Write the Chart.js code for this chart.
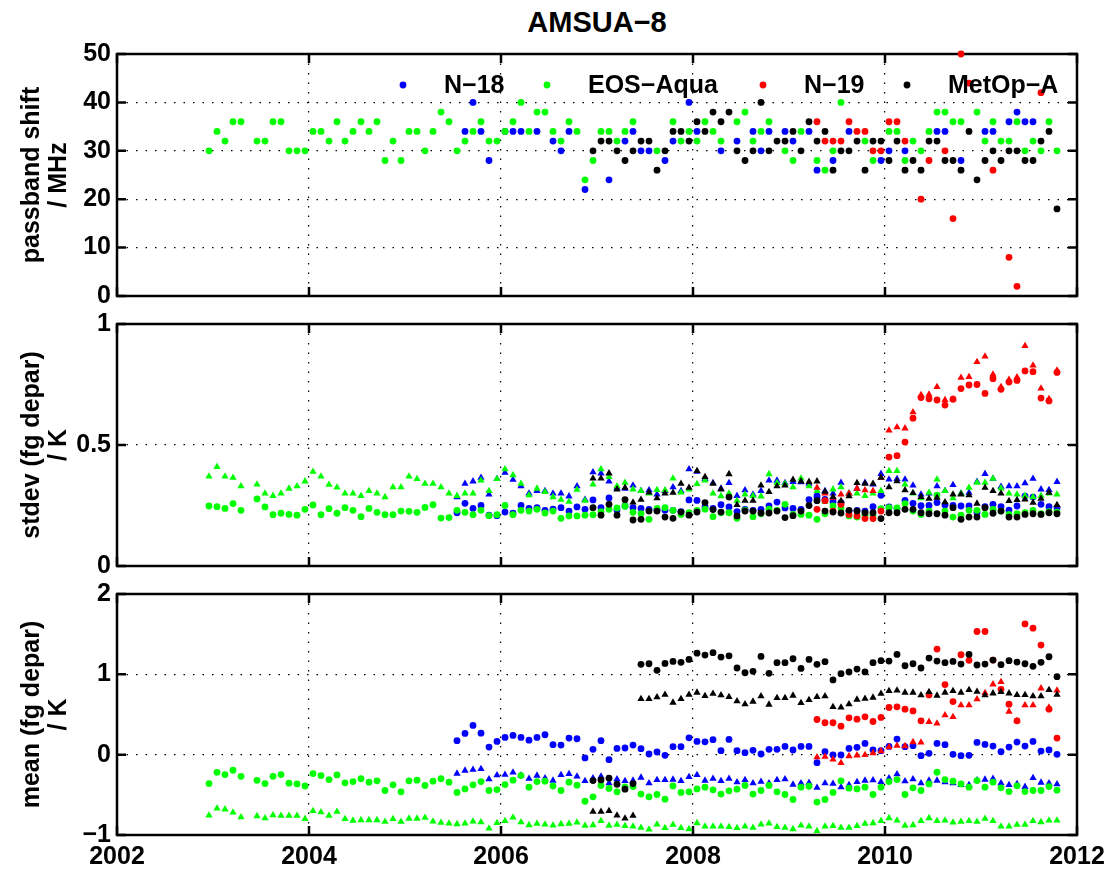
<!DOCTYPE html>
<html>
<head>
<meta charset="utf-8">
<script src="https://cdn.jsdelivr.net/npm/chart.js@4.4.1/dist/chart.umd.min.js"></script>
<style>
  body { margin: 0; background: #fff; overflow: hidden; width: 1112px; height: 873px; position: relative; }
  canvas { position: absolute; left: 0; }
  #title { position: absolute; left: 397px; width: 400px; top: 8px; text-align: center;
           font: bold 29px "Liberation Sans", Arial, sans-serif; line-height: 29px; color: #000; }
</style>
</head>
<body>
<div id="title">AMSUA−8</div>
<canvas id="shiftChart" width="1112" height="284" style="top:33px"></canvas>
<canvas id="stdevChart" width="1112" height="284" style="top:303px"></canvas>
<canvas id="meanChart" width="1112" height="307" style="top:573px"></canvas>
<script>
// monthly values, index 0 = Dec 2002
const satellites = ['N−18', 'EOS−Aqua', 'N−19', 'MetOp−A'];
const satColors = ['#0000ff', '#00ff00', '#ff0000', '#000000'];
const aquaStart = 0, n18Start = 31, metopStart = 48, n19Start = 76;
const xTicks = [2002, 2004, 2006, 2008, 2010, 2012];

// passband shift / MHz
const aquaShift = [30,34,32,36,36,null,32,32,36,36, 30,30,30,34,34,32,36,32,34,36,
  34,36,28,32,28,34,34,30,34,38, 36,30,32,34,36,32,32,34,36,40, 34,38,38,34,32,36,34,24,28,34,
  34,32,34,36,null,null,30,null,36,32, 34,32,36,34,32,null,36,38,32,34,
  36,null,30,28,34,null,28,26,30,40, null,null,32,28,null,34,34,28,32,30,
  34,38,38,36,36,null,38,32,36,32, 32,36,30,32,30,36,30];
const n18Shift = [null,34,40,34,28,null,34,34,34, null,34,null,32,30,34,null,22,null,null,
  24,null,32,34,30,30,null,28,32,null, 40,34,null,null,30,null,32,null,34,30,
  34,null,34,32,null,34,26,null,28,null, 34,null,null,null,28,30,null,30,null,null,
  null,34,34,null,28,null,null,34,34,null, 36,38,36,36,null,null,null];
const n19Shift = [36,32,32,32,36,34,34,30,30,36, 36,32,null,20,28,null,30,16,50,44,
  null,null,26,null,8,2,null,null,42,null,null];
const metopShift = [30,32,32,30,28,30,32,32,26,30, 34,34,32,36,34,38,36,38,30,28,
  30,40,30,32,32,34,30,36,32,34, 26,30,30,32,26,32,32,28,32,26,
  28,26,32,32,28,28,26,34,24,28, 30,28,30,30,28,28,32,34,18];

// stdev (fg depar) / K : circles and triangles
const aquaStdCirc = [0.248,0.245,0.238,0.258,0.23,null,0.277,0.244,0.212,0.218,
  0.213,0.21,0.234,0.252,0.212,0.237,0.218,0.241,0.23,0.204, 0.238,0.222,0.212,0.212,0.227,0.226,0.222,0.242,0.253,0.198,
  0.20,0.23,0.222,0.212,0.23,0.208,0.212,0.25,0.212,0.23, 0.227,0.234,0.219,0.227,0.197,0.207,0.207,0.21,0.212,0.225,
  0.234,0.24,0.247,0.222,0.216,0.193,0.238,0.241,0.23,0.213, 0.22,0.23,0.235,0.204,0.22,0.22,0.197,0.23,0.204,0.216,
  0.235,0.23,0.255,0.213,0.213,0.21,0.193,0.216,0.248,0.24, 0.207,0.202,0.21,0.207,0.237,0.241,0.24,0.258,0.227,0.213,
  0.227,0.293,0.227,0.202,0.21,0.23,0.23,0.213,0.234,0.227, 0.213,0.216,0.22,0.23,0.216,0.225,0.223];
const aquaStdTri = [0.37,0.41,0.37,0.365,0.33,null,0.337,0.30,0.29,0.30,
  0.32,0.33,0.35,0.39,0.37,0.336,0.325,0.30,0.30,0.29, 0.31,0.30,0.285,0.326,0.326,0.37,0.36,0.34,0.34,0.326,
  0.30,0.29,0.30,0.30,0.354,0.31,0.36,0.40,0.375,0.34, 0.293,0.32,0.306,0.285,0.274,0.266,0.315,0.27,0.337,0.40,
  0.368,0.33,0.344,0.317,0.31,0.30,0.314,0.313,0.362,0.304, 0.317,0.339,0.354,0.30,0.289,0.30,0.27,0.296,0.29,0.288,
  0.38,0.343,0.34,0.326,0.362,0.33,0.31,0.266,0.317,0.326, 0.30,0.30,0.29,0.30,0.31,0.393,0.393,0.337,0.30,0.28,
  0.303,0.358,0.31,0.28,0.30,0.324,0.344,0.344,0.361,0.321, 0.30,0.296,0.29,0.285,0.29,0.30,0.296];
const n18StdCirc = [0.22,0.259,0.238,0.25,0.21,0.208,0.223,0.218,0.25,
  0.238,0.241,0.23,0.235,0.241,0.227,0.244,0.234,0.273,0.241, 0.281,0.231,0.248,0.241,0.238,0.234,0.233,0.23,0.23,0.225,
  0.273,0.271,0.244,0.238,0.253,0.244,0.225,0.234,0.23,0.234, 0.248,0.264,0.24,0.238,0.234,0.274,0.285,0.275,0.266,0.262,
  0.227,0.23,0.227,0.245,0.292,0.244,0.237,0.271,0.259,0.249, 0.25,0.262,0.252,0.25,0.248,0.248,0.22,0.245,0.255,0.245,
  0.231,0.248,0.289,0.285,0.255,0.245,0.24];
const n18StdTri = [0.285,0.34,0.35,0.365,0.296,0.36,0.386,0.357,0.33,
  0.30,0.31,0.31,0.30,0.30,0.288,0.33,0.274,0.388,0.383, 0.35,0.324,0.32,0.333,0.31,0.313,0.296,0.31,0.326,0.31,
  0.40,0.39,0.36,0.343,0.32,0.343,0.29,0.313,0.296,0.31, 0.354,0.353,0.343,0.348,0.347,0.34,0.30,0.31,0.30,0.344,
  0.30,0.32,0.344,0.337,0.381,0.358,0.36,0.358,0.333,0.296, 0.30,0.33,0.31,0.335,0.30,0.303,0.348,0.381,0.361,0.328,
  0.33,0.33,0.342,0.361,0.317,0.314,0.348];
const n19StdCirc = [0.234,0.27,0.227,0.255,0.213,0.207,0.196,0.196,0.227,0.45,
  0.456,0.512,0.611,0.696,0.691,0.686,0.665,0.689,0.733,0.748, 0.75,0.713,0.774,0.73,0.76,0.767,0.806,0.803,0.694,0.682,0.80];
const n19StdTri = [0.324,0.30,0.282,0.296,0.30,0.32,0.313,0.31,0.365,0.56,
  0.574,0.569,0.636,0.707,0.709,0.74,0.686,0.689,0.778,0.781, 0.843,0.866,0.792,0.74,0.77,0.78,0.909,0.829,0.734,0.69,0.808];
const metopStdCirc = [0.241,0.21,0.255,0.21,0.274,0.19,0.193,0.227,0.227,0.202,
  0.197,0.223,0.21,0.223,0.262,0.233,0.223,0.285,0.207,0.227, 0.227,0.219,0.219,0.227,0.20,0.208,0.227,0.25,0.27,0.227,
  0.223,0.219,0.23,0.227,0.22,0.22,0.196,0.22,0.22,0.234, 0.234,0.22,0.216,0.216,0.21,0.241,0.193,0.202,0.202,0.241,
  0.218,0.227,0.202,0.202,0.213,0.216,0.213,0.22,0.216];
const metopStdTri = [0.362,0.362,0.383,0.317,0.324,0.263,0.274,0.304,0.28,0.30,
  0.303,0.34,0.324,0.393,0.368,0.34,0.317,0.38,0.252,0.27, 0.27,0.333,0.306,0.33,0.333,0.357,0.35,0.348,0.35,0.307,
  0.286,0.269,0.289,0.343,0.34,0.34,0.365,0.326,0.351,0.313, 0.302,0.286,0.278,0.282,0.264,0.296,0.296,0.293,0.258,0.324,
  0.31,0.30,0.269,0.273,0.275,0.262,0.278,0.303,0.252];

// mean (fg depar) / K : circles and triangles
const aquaMeanCirc = [-0.36,-0.22,-0.248,-0.194,-0.27,null,-0.32,-0.36,-0.27,-0.248,
  -0.355,-0.364,-0.39,-0.235,-0.26,-0.31,-0.252,-0.35,-0.335,-0.30, -0.343,-0.326,-0.446,-0.376,-0.463,-0.326,-0.318,-0.384,-0.33,-0.30,
  -0.343,-0.47,-0.426,-0.376,-0.335,-0.446,-0.434,-0.372,-0.318,-0.26, -0.405,-0.335,-0.33,-0.39,-0.446,-0.343,-0.38,-0.58,-0.525,-0.384,
  -0.42,-0.463,-0.40,-0.397,-0.49,-0.525,-0.496,-0.554,-0.39,-0.47, -0.463,-0.426,-0.405,-0.438,-0.49,-0.45,-0.43,-0.384,-0.49,-0.446,
  -0.384,-0.463,-0.496,-0.558,-0.405,-0.393,-0.59,-0.558,-0.47,-0.326, -0.417,-0.426,-0.405,-0.496,-0.405,-0.335,-0.31,-0.496,-0.413,-0.446,
  -0.364,-0.219,-0.31,-0.33,-0.364,-0.405,-0.322,-0.405,-0.343,-0.413, -0.459,-0.388,-0.459,-0.446,-0.446,-0.397,-0.442];
const aquaMeanTri = [-0.756,-0.67,-0.68,-0.72,-0.777,null,-0.764,-0.79,-0.752,-0.76,
  -0.76,-0.76,-0.80,-0.70,-0.715,-0.76,-0.71,-0.80,-0.82,-0.814, -0.814,-0.814,-0.835,-0.80,-0.835,-0.795,-0.795,-0.785,-0.83,-0.847,
  -0.855,-0.864,-0.855,-0.83,-0.84,-0.917,-0.85,-0.826,-0.78,-0.84, -0.876,-0.86,-0.868,-0.88,-0.864,-0.86,-0.843,-0.884,-0.876,-0.826,
  -0.884,-0.872,-0.888,-0.893,-0.909,-0.93,-0.868,-0.913,-0.872,-0.913, -0.926,-0.851,-0.893,-0.893,-0.893,-0.90,-0.913,-0.893,-0.909,-0.868,
  -0.855,-0.90,-0.909,-0.926,-0.88,-0.893,-0.95,-0.893,-0.888,-0.909, -0.909,-0.888,-0.86,-0.851,-0.826,-0.789,-0.818,-0.884,-0.876,-0.826,
  -0.789,-0.826,-0.818,-0.843,-0.835,-0.826,-0.835,-0.798,-0.826,-0.893, -0.893,-0.872,-0.872,-0.826,-0.839,-0.818,-0.818];
const n18MeanCirc = [0.174,0.264,0.364,0.268,0.095,0.165,0.215,0.24,0.215,
  0.18,0.215,0.248,0.124,0.12,0.207,0.198,-0.04,0.066,0.174, -0.062,0.078,0.083,0.12,0.074,0.008,0.033,-0.008,0.10,0.10,
  0.21,0.165,0.16,0.186,0.05,0.19,0.05,0.025,0.054,0.008, 0.066,0.066,0.103,0.058,0.103,0.103,-0.10,0.037,-0.004,-0.004,
  0.078,0.091,0.14,0.058,0.05,0.103,0.194,0.10,0.112,-0.012, 0.017,0.14,0.124,0.004,-0.012,-0.008,0.153,0.128,0.107,0.037,
  0.095,0.157,0.107,0.165,0.045,0.058,0.004];
const n18MeanTri = [-0.235,-0.198,-0.186,-0.178,-0.306,-0.256,-0.248,-0.22,-0.26,
  -0.30,-0.26,-0.293,-0.322,-0.252,-0.24,-0.27,-0.326,-0.293,-0.27, -0.355,-0.306,-0.326,-0.322,-0.285,-0.355,-0.314,-0.314,-0.31,-0.326,
  -0.277,-0.252,-0.322,-0.30,-0.326,-0.30,-0.343,-0.314,-0.355,-0.335, -0.355,-0.314,-0.306,-0.372,-0.355,-0.35,-0.41,-0.355,-0.36,-0.405,
  -0.376,-0.339,-0.322,-0.318,-0.339,-0.293,-0.244,-0.33,-0.306,-0.355, -0.322,-0.322,-0.343,-0.355,-0.376,-0.376,-0.318,-0.31,-0.30,-0.355,
  -0.376,-0.364,-0.40,-0.289,-0.347,-0.355,-0.368];
const n19MeanCirc = [0.438,0.397,0.397,0.355,0.459,0.442,0.471,0.413,0.463,0.587,
  0.595,0.566,0.545,0.421,0.744,1.314,0.872,0.661,1.244,1.174, 1.533,1.533,1.178,0.814,0.628,0.421,1.628,1.574,1.364,0.566,0.207];
const n19MeanTri = [-0.03,-0.025,-0.058,-0.103,-0.017,-0.008,-0.004,0.02,0.045,0.095,
  0.112,0.107,0.157,0.153,0.409,0.388,0.492,0.471,0.616,0.616, 0.69,0.769,0.876,0.905,0.537,0.421,0.616,0.616,0.826,0.587,0.80];
const metopMeanCirc = [-0.322,-0.314,-0.293,-0.368,-0.43,-0.36,1.124,1.132,1.05,1.136,
  1.161,1.149,1.186,1.264,1.24,1.27,1.215,1.231,1.079,1.02, 1.037,1.223,1.012,1.145,1.145,1.194,1.074,1.186,1.124,1.157,
  0.93,1.008,1.03,1.066,1.03,1.145,1.17,1.165,1.248,1.107, 1.132,1.079,1.202,1.165,1.145,1.161,1.128,1.248,1.116,1.128,
  1.178,1.12,1.17,1.153,1.132,1.10,1.149,1.219,0.971];
const metopMeanTri = [-0.71,-0.71,-0.70,-0.756,-0.793,-0.76,0.694,0.694,0.715,0.748,
  0.649,0.694,0.748,0.773,0.731,0.76,0.74,0.719,0.665,0.628, 0.661,0.727,0.624,0.707,0.707,0.736,0.645,0.682,0.719,0.727,
  0.595,0.587,0.628,0.686,0.698,0.711,0.76,0.793,0.80,0.773, 0.773,0.74,0.781,0.736,0.773,0.793,0.773,0.806,0.785,0.74,
  0.764,0.781,0.764,0.744,0.744,0.727,0.727,0.806,0.748];

const FONT = '"Liberation Sans", Arial, sans-serif';

function monthYear(i) {
    return 2002 + (11.5 + i) / 12; // mid-month, counted from Dec 2002
}

function series(start, vals) {
    const pts = [];
    vals.forEach((v, k) => { if (v !== null) pts.push({ x: monthYear(start + k), y: v }); });
    return pts;
}

// sat index: 0 N-18, 1 Aqua, 2 N-19, 3 MetOp-A (MetOp drawn on top)
function dataset(sat, style, start, vals) {
    return {
        label: satellites[sat],
        data: series(start, vals),
        pointStyle: style,
        pointRadius: style === 'triangle' ? 4.2 : 3.4,
        pointBorderWidth: 0,
        pointBackgroundColor: satColors[sat],
        pointBorderColor: satColors[sat],
        order: 4 - sat,
        clip: false
    };
}

const framePlugin = {
    id: 'frame',
    beforeDatasetsDraw(chart) {
        const { ctx, chartArea: a, scales } = chart;
        ctx.save();
        ctx.strokeStyle = '#000';
        ctx.lineWidth = 2.5;
        ctx.strokeRect(a.left, a.top, a.right - a.left, a.bottom - a.top);
        ctx.beginPath();
        scales.x.ticks.forEach(t => {
            const px = scales.x.getPixelForValue(t.value);
            ctx.moveTo(px, a.bottom); ctx.lineTo(px, a.bottom - 9);
            ctx.moveTo(px, a.top); ctx.lineTo(px, a.top + 9);
        });
        scales.y.ticks.forEach(t => {
            const py = scales.y.getPixelForValue(t.value);
            ctx.moveTo(a.left, py); ctx.lineTo(a.left + 9, py);
            ctx.moveTo(a.right, py); ctx.lineTo(a.right - 9, py);
        });
        ctx.stroke();
        ctx.restore();
    },
    afterDraw(chart, args, opts) {
        const { ctx, chartArea: a } = chart;
        const cy = (a.top + a.bottom) / 2;
        ctx.save();
        ctx.fillStyle = '#000';
        ctx.font = 'bold 25px ' + FONT;
        ctx.textAlign = 'center';
        ctx.textBaseline = 'alphabetic';
        (opts.ytitle || []).forEach((line, k) => {
            ctx.save();
            ctx.translate(39 + k * 27, cy);
            ctx.rotate(-Math.PI / 2);
            ctx.fillText(line, 0, 0);
            ctx.restore();
        });
        if (opts.legend) {
            const markX = [403, 547, 763, 907];
            const textX = [444, 588, 804, 948];
            const ly = a.top + 31;
            ctx.textAlign = 'left';
            ctx.textBaseline = 'middle';
            satellites.forEach((name, k) => {
                ctx.fillStyle = satColors[k];
                ctx.beginPath();
                ctx.arc(markX[k], ly, 3.4, 0, 2 * Math.PI);
                ctx.fill();
                ctx.fillStyle = '#000';
                ctx.fillText(name, textX[k], ly + 1);
            });
        }
        ctx.restore();
    }
};

function makeChart(id, datasets, yMin, yMax, yStep, ytitle, showX, legend) {
    const ctx = document.getElementById(id).getContext('2d');
    return new Chart(ctx, {
        type: 'scatter',
        data: { datasets },
        plugins: [framePlugin],
        options: {
            responsive: false,
            animation: false,
            events: [],
            layout: { padding: { top: 10, right: 35, left: 0, bottom: 0 } },
            plugins: {
                legend: { display: false },
                tooltip: { enabled: false },
                frame: { ytitle, legend }
            },
            scales: {
                x: {
                    type: 'linear',
                    min: 2002,
                    max: 2012,
                    afterBuildTicks: s => { s.ticks = xTicks.map(v => ({ value: v })); },
                    ticks: {
                        display: showX,
                        color: '#000',
                        padding: 7,
                        font: { family: FONT, size: 25, weight: 'bold' },
                        callback: v => String(v)
                    },
                    grid: { color: '#000', lineWidth: 1.2, drawTicks: false },
                    border: { display: false, dash: [1.5, 8] },
                    afterFit: s => { s.height = showX ? 45 : 10; }
                },
                y: {
                    min: yMin,
                    max: yMax,
                    ticks: {
                        stepSize: yStep,
                        color: '#000',
                        padding: 6,
                        font: { family: FONT, size: 25, weight: 'bold' },
                        callback: v => String(v).replace('-', '−')
                    },
                    grid: { color: '#000', lineWidth: 1.2, drawTicks: false },
                    border: { display: false, dash: [1.5, 8] },
                    afterFit: s => { s.width = 117; }
                }
            }
        }
    });
}

window.onload = function () {
    makeChart('shiftChart', [
        dataset(0, 'circle', n18Start, n18Shift),
        dataset(1, 'circle', aquaStart, aquaShift),
        dataset(2, 'circle', n19Start, n19Shift),
        dataset(3, 'circle', metopStart, metopShift)
    ], 0, 50, 10, ['passband shift', '/ MHz'], false, true);

    makeChart('stdevChart', [
        dataset(0, 'circle', n18Start, n18StdCirc),
        dataset(0, 'triangle', n18Start, n18StdTri),
        dataset(1, 'circle', aquaStart, aquaStdCirc),
        dataset(1, 'triangle', aquaStart, aquaStdTri),
        dataset(2, 'circle', n19Start, n19StdCirc),
        dataset(2, 'triangle', n19Start, n19StdTri),
        dataset(3, 'circle', metopStart, metopStdCirc),
        dataset(3, 'triangle', metopStart, metopStdTri)
    ], 0, 1, 0.5, ['stdev (fg depar)', '/ K'], false, false);

    makeChart('meanChart', [
        dataset(0, 'circle', n18Start, n18MeanCirc),
        dataset(0, 'triangle', n18Start, n18MeanTri),
        dataset(1, 'circle', aquaStart, aquaMeanCirc),
        dataset(1, 'triangle', aquaStart, aquaMeanTri),
        dataset(2, 'circle', n19Start, n19MeanCirc),
        dataset(2, 'triangle', n19Start, n19MeanTri),
        dataset(3, 'circle', metopStart, metopMeanCirc),
        dataset(3, 'triangle', metopStart, metopMeanTri)
    ], -1, 2, 1, ['mean (fg depar)', '/ K'], true, false);
};
</script>
</body>
</html>
